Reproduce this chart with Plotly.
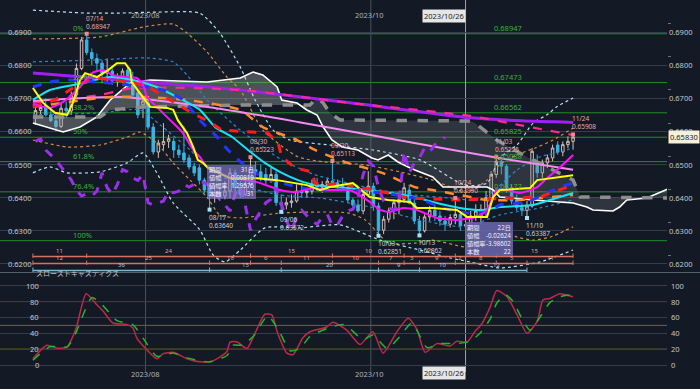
import pandas as pd
import plotly.graph_objects as go

# ---------------- data ----------------
dates = pd.bdate_range("2023-06-30", "2023-11-24").strftime("%Y/%m/%d").tolist()

opens = [0.6640,0.6663,0.6678,0.6650,0.6632,0.6615,0.6670,0.6662,0.6710,0.6790,
         0.6876,0.6838,0.6820,0.6806,0.6776,0.6782,0.6752,0.6760,0.6785,0.6740,
         0.6716,0.6680,0.6686,0.6613,0.6538,0.6560,0.6570,0.6570,0.6544,0.6535,
         0.6520,0.6495,0.6490,0.6453,0.6435,0.6405,0.6412,0.6405,0.6420,0.6475,
         0.6430,0.6410,0.6440,0.6485,0.6478,0.6470,0.6452,0.6470,0.6385,0.6378,
         0.6385,0.6390,0.6420,0.6415,0.6420,0.6440,0.6432,0.6440,0.6450,0.6445,
         0.6435,0.6430,0.6393,0.6378,0.6360,0.6410,0.6435,0.6375,0.6302,0.6335,
         0.6360,0.6385,0.6395,0.6423,0.6384,0.6330,0.6300,0.6342,0.6362,0.6345,
         0.6330,0.6320,0.6340,0.6350,0.6315,0.6318,0.6345,0.6345,0.6365,0.6400,
         0.6470,0.6510,0.6495,0.6430,0.6393,0.6370,0.6362,0.6375,0.6508,0.6475,
         0.6505,0.6520,0.6559,0.6538,0.6560,0.6570]
highs = [0.6672,0.6690,0.6700,0.6672,0.6655,0.6685,0.6690,0.6720,0.6805,0.6885,
         0.68947,0.6850,0.6835,0.6815,0.6820,0.6790,0.6775,0.6790,0.6795,0.6780,
         0.6722,0.6700,0.6700,0.6625,0.6575,0.6625,0.6590,0.6580,0.6560,0.6615,
         0.6530,0.6505,0.6500,0.6460,0.6445,0.6440,0.6430,0.6450,0.6490,0.6485,
         0.6450,0.6450,0.65223,0.6510,0.6500,0.6490,0.6490,0.6480,0.6410,0.6400,
         0.6410,0.6440,0.6445,0.6430,0.6455,0.6460,0.6450,0.6460,0.65113,0.6455,
         0.6460,0.6440,0.6400,0.6395,0.6425,0.6480,0.6445,0.6385,0.6345,0.6370,
         0.6395,0.6405,0.6445,0.6440,0.6400,0.6345,0.6350,0.6375,0.6380,0.6360,
         0.6345,0.6350,0.63990,0.6360,0.6330,0.6360,0.6380,0.6380,0.6420,0.6480,
         0.65225,0.6515,0.6500,0.6440,0.6410,0.6385,0.6390,0.6550,0.6530,0.6515,
         0.6530,0.6560,0.6570,0.6570,0.6585,0.65908]
lows = [0.6620,0.6650,0.6645,0.6628,0.6600,0.6610,0.6640,0.6650,0.6700,0.6785,
        0.6830,0.6800,0.6780,0.6745,0.6745,0.6740,0.6735,0.6745,0.6725,0.6700,
        0.6640,0.6640,0.6605,0.6530,0.6520,0.6545,0.6550,0.6520,0.6520,0.6505,
        0.6485,0.6465,0.6440,0.6415,0.63640,0.6385,0.6390,0.6395,0.6400,0.6420,
        0.6400,0.6405,0.6430,0.6470,0.6450,0.6440,0.6445,0.6375,0.63572,0.6365,
        0.6370,0.6385,0.6400,0.6400,0.6410,0.6420,0.6415,0.6420,0.6440,0.6420,
        0.6425,0.6385,0.6365,0.6355,0.6350,0.6405,0.6360,0.62851,0.6290,0.6325,
        0.6335,0.6350,0.6385,0.6380,0.6320,0.62862,0.6295,0.6330,0.6330,0.6315,
        0.6300,0.6310,0.6320,0.6300,0.62703,0.6305,0.6330,0.6320,0.6340,0.6395,
        0.6460,0.6470,0.6415,0.6380,0.6360,0.6345,0.63387,0.6370,0.6460,0.6460,
        0.6490,0.6510,0.6530,0.6525,0.6550,0.6545]
closes = [0.6663,0.6672,0.6650,0.6632,0.6615,0.6670,0.6662,0.6710,0.6790,0.6876,
          0.6838,0.6820,0.6806,0.6776,0.6782,0.6752,0.6760,0.6782,0.6736,0.6710,
          0.6650,0.6692,0.6613,0.6538,0.6565,0.6570,0.6578,0.6544,0.6530,0.6514,
          0.6493,0.6475,0.6453,0.6423,0.6405,0.6412,0.6405,0.6420,0.6475,0.6430,
          0.6410,0.6440,0.6485,0.6478,0.6460,0.6452,0.6470,0.6385,0.6378,0.6385,
          0.6390,0.6420,0.6415,0.6420,0.6440,0.6432,0.6440,0.6450,0.6445,0.6435,
          0.6430,0.6393,0.6378,0.6360,0.6410,0.6435,0.6375,0.6302,0.6335,0.6360,
          0.6385,0.6395,0.6430,0.6384,0.6330,0.6300,0.6342,0.6362,0.6345,0.6330,
          0.6320,0.6340,0.6350,0.6315,0.6318,0.6345,0.6360,0.6365,0.6400,0.6470,
          0.6510,0.6495,0.6430,0.6390,0.6370,0.6362,0.6375,0.6540,0.6475,0.6505,
          0.6520,0.6550,0.6538,0.6560,0.6570,0.65830]

# indicator readings (bar index, price)
ma_purple_x = [-0.5, 21, 40, 61, 85, 95, 105]
ma_purple_y = [0.6776, 0.6750, 0.6725, 0.6687, 0.6641, 0.6632, 0.6627]
ma_pinkdash_x = [-0.5, 12.6, 19, 40, 61.4, 84.9, 94.6, 105]
ma_pinkdash_y = [0.6686, 0.6710, 0.6731, 0.6725, 0.6686, 0.6647, 0.6619, 0.6589]
ma_pink_x = [-0.5, 16.5, 35, 51.5, 74, 90.5, 105]
ma_pink_y = [0.6692, 0.6704, 0.6671, 0.6628, 0.6565, 0.6520, 0.6484]
ma_orange_x = [-0.5, 14.6, 21, 29.6, 40, 44.4, 51.1, 54.6, 61, 67.7, 74.1, 77.6, 82.9, 88.2, 94.1, 98.5, 105]
ma_orange_y = [0.6674, 0.6704, 0.6704, 0.6695, 0.6665, 0.6613, 0.6574, 0.6544, 0.6505, 0.6475, 0.6432, 0.6423, 0.6408, 0.6393, 0.6393, 0.6399, 0.6408]
ma_cyan_x = [-0.5, 2.8, 9.3, 14.6, 19, 23.7, 27.6, 32.1, 35.1, 38.4, 41.5, 44.8, 48.1, 51.3, 54.6, 61, 67.7, 74.1, 77.6, 82.9, 87.4, 90.7, 97.2, 100.5, 105]
ma_cyan_y = [0.6695, 0.6725, 0.6746, 0.6764, 0.6755, 0.6734, 0.6704, 0.6665, 0.6613, 0.6583, 0.6544, 0.6505, 0.6475, 0.6453, 0.6438, 0.6429, 0.6417, 0.6402, 0.6387, 0.6369, 0.6363, 0.6372, 0.6378, 0.6393, 0.6414]
ma_blue_x = [-0.5, 2.8, 6.7, 12, 18.5, 24.9, 28.8, 32.1, 35.1, 37.6, 40.3, 42.9, 44.8, 49.7, 54.6, 62.4, 67.7, 74.1, 81, 84.3, 88.2, 90.7, 96, 99.9, 102.4, 105]
ma_blue_y = [0.6734, 0.6749, 0.6755, 0.6749, 0.6740, 0.6725, 0.6695, 0.6634, 0.6589, 0.6544, 0.6505, 0.6475, 0.6459, 0.6438, 0.6423, 0.6423, 0.6414, 0.6399, 0.6363, 0.6354, 0.6357, 0.6378, 0.6387, 0.6414, 0.6432, 0.6444]
ma_magenta_x = [-0.5, 2.8, 5.4, 8.7, 11, 13.2, 15.1, 17.9, 19.8, 21, 21.8, 23.7, 26.3, 28.8, 30.8, 32.1, 33.5, 38, 43.3, 47.8, 51.1, 54.2, 57.5, 61.4, 65.3, 67.3, 69.2, 71.8, 74.5, 78.4, 82.3, 86.2, 88.2, 90.1, 92.1, 94.6, 98, 99.9, 101.9, 105]
ma_magenta_y = [0.6683, 0.6671, 0.6689, 0.6734, 0.6776, 0.6785, 0.6770, 0.6764, 0.6761, 0.6740, 0.6704, 0.6674, 0.6634, 0.6595, 0.6544, 0.6523, 0.6493, 0.6462, 0.6447, 0.6423, 0.6417, 0.6429, 0.6423, 0.6423, 0.6387, 0.6363, 0.6357, 0.6369, 0.6363, 0.6339, 0.6333, 0.6342, 0.6363, 0.6423, 0.6423, 0.6414, 0.6432, 0.6459, 0.6484, 0.6529]
tenkan_x = [-0.5, 1.5, 3.8, 6.2, 7.3, 8.7, 9.7, 12, 14.2, 15.9, 17.5, 18.5, 18.8, 20.4, 22.4, 25.7, 26.9, 27.8, 29.6, 30.8, 31.7, 32.7, 33.7, 38, 43.3, 47.2, 53, 55.6, 57.5, 62, 65.3, 68.9, 73.2, 74.5, 77.6, 82.3, 84.3, 88.2, 89.4, 90.7, 96.6, 98, 102.4, 105]
tenkan_y = [0.6731, 0.6686, 0.6656, 0.6650, 0.6686, 0.6755, 0.6776, 0.6764, 0.6785, 0.6806, 0.6806, 0.6785, 0.6749, 0.6716, 0.6674, 0.6671, 0.6665, 0.6634, 0.6595, 0.6553, 0.6514, 0.6505, 0.6490, 0.6459, 0.6459, 0.6453, 0.6438, 0.6423, 0.6432, 0.6444, 0.6402, 0.6393, 0.6387, 0.6369, 0.6369, 0.6363, 0.6342, 0.6342, 0.6402, 0.6423, 0.6429, 0.6453, 0.6462, 0.6468]
kijun_x = [-0.5, 3.8, 8.1, 11.6, 15.5, 19.4, 22.4, 26.3, 30.2, 34.1, 36.4, 45.4, 47.4, 48.1, 50.7, 54, 54.6, 56.5, 59.9, 62.4, 66.3, 68.9, 72.8, 82.9, 92.7, 98.5, 101.1, 105]
kijun_y = [0.6674, 0.6695, 0.6740, 0.6761, 0.6755, 0.6746, 0.6731, 0.6695, 0.6659, 0.6628, 0.6604, 0.6595, 0.6565, 0.6523, 0.6490, 0.6478, 0.6444, 0.6438, 0.6444, 0.6432, 0.6423, 0.6414, 0.6399, 0.6393, 0.6399, 0.6402, 0.6417, 0.6438]
spanA_x = [-0.5, 5.4, 8.7, 12, 14.6, 18.5, 22.4, 33.5, 40, 42.5, 44.4, 47.2, 48.1, 51.1, 53, 55, 56.2, 57.9, 59.9, 63, 65.7, 66.9, 68.9, 70.8, 72.8, 74.1, 77.6, 79.6, 84.3, 88.2, 89.4, 90.7, 97.2, 105, 107.7, 108.9, 112.8, 114.1, 115.5, 119.4, 124]
spanA_y = [0.66254, 0.65982, 0.66133, 0.66435, 0.66948, 0.67461, 0.67552, 0.67491, 0.67612, 0.67793, 0.67702, 0.67340, 0.66948, 0.66858, 0.66646, 0.66495, 0.66133, 0.65741, 0.65530, 0.65439, 0.65198, 0.65138, 0.65288, 0.65077, 0.64926, 0.64836, 0.64625, 0.64323, 0.64323, 0.64323, 0.64232, 0.64021, 0.63931, 0.63840, 0.63719, 0.63629, 0.63599, 0.63719, 0.63931, 0.63991, 0.64290]
spanB_x = [-0.5, 12.6, 14.6, 21, 40, 53, 53.6, 55, 56.2, 57.5, 59.5, 84.9, 85.8, 90.1, 96, 101.1, 105, 106.4, 124]
spanB_y = [0.66435, 0.66435, 0.66646, 0.66737, 0.66797, 0.66797, 0.66797, 0.67008, 0.66858, 0.66556, 0.66345, 0.66314, 0.66254, 0.65741, 0.65228, 0.64836, 0.64534, 0.64021, 0.63991]

bb3u_x = [-0.5, 10.1, 15.9, 23.7, 32.1, 36, 40, 42.9, 46.4, 49.7, 57.5, 65.9, 75.1, 83.9, 88.2, 90.7, 94.1, 97.2, 99.9, 101.9, 105]
bb3u_y = [0.6966, 0.6957, 0.6957, 0.6960, 0.6957, 0.6897, 0.6794, 0.6695, 0.6604, 0.6574, 0.6559, 0.6544, 0.6514, 0.6438, 0.6444, 0.6520, 0.6560, 0.6625, 0.6650, 0.6675, 0.6701]
bb2u_x = [-0.5, 12.6, 21, 26.9, 29.6, 33.5, 37.4, 40, 44.4, 51.3, 56.5, 64.4, 71.2, 77.6, 84.3, 88.2, 90.7, 94.1, 97.6, 101.1, 105]
bb2u_y = [0.6879, 0.6885, 0.6915, 0.6924, 0.6897, 0.6840, 0.6764, 0.6725, 0.6604, 0.6523, 0.6508, 0.6499, 0.6478, 0.6453, 0.6417, 0.6453, 0.6500, 0.6530, 0.6550, 0.6574, 0.6610]
bb1u_x = [-0.5, 12.6, 21.8, 26.9, 29.6, 33.5, 40, 48.1, 54.6, 61, 67.3, 74.1, 81, 86.8, 90.1, 94.1, 98.5, 103.8, 105]
bb1u_y = [0.6810, 0.6816, 0.6822, 0.6810, 0.6770, 0.6695, 0.6604, 0.6514, 0.6469, 0.6444, 0.6423, 0.6408, 0.6399, 0.6393, 0.6429, 0.6484, 0.6523, 0.6544, 0.6553]
bb1l_x = [-0.5, 12.6, 20.4, 24.4, 30.2, 34.1, 40, 47.8, 55.6, 65.3, 75.1, 83.9, 90.7, 98.5, 105]
bb1l_y = [0.6650, 0.6656, 0.6665, 0.6619, 0.6544, 0.6484, 0.6438, 0.6408, 0.6399, 0.6372, 0.6333, 0.6312, 0.6348, 0.6369, 0.6393]
bb2l_x = [-0.5, 6.2, 12.6, 17.9, 20.4, 23.7, 26.9, 30.2, 33.5, 36, 40, 48.1, 61, 64.4, 66.9, 68.9, 74.1, 77.6, 84.3, 88.2, 90.7, 94.1, 97.2, 100.5, 105]
bb2l_y = [0.6574, 0.6553, 0.6559, 0.6583, 0.6598, 0.6565, 0.6505, 0.6453, 0.6402, 0.6348, 0.6339, 0.6354, 0.6354, 0.6333, 0.6293, 0.6263, 0.6263, 0.6272, 0.6251, 0.6272, 0.6303, 0.6281, 0.6272, 0.6281, 0.6312]
bb3l_x = [-0.5, 2.8, 6.2, 12.6, 17.9, 21, 23.7, 26.9, 32.1, 34.7, 37, 40, 44.8, 51.7, 59.5, 67.3, 75.1, 81, 84.9, 90.7, 98.5, 105]
bb3l_y = [0.6475, 0.6493, 0.6475, 0.6478, 0.6505, 0.6535, 0.6475, 0.6384, 0.6303, 0.6227, 0.6206, 0.6242, 0.6309, 0.6309, 0.6318, 0.6272, 0.6242, 0.6218, 0.6206, 0.6188, 0.6206, 0.6242]

stoch_k_x = [-0.5, 2.2, 4.4, 6.2, 7.3, 8.1, 9.9, 12, 13.2, 15.1, 17.9, 19, 19.8, 21.8, 23.7, 24.9, 26.9, 29.6, 32.1, 34.1, 36, 37.4, 38, 39.4, 41.3, 43.3, 44.8, 46.2, 47.2, 49.1, 50.3, 52.2, 53.6, 56.9, 58.1, 60.8, 63.4, 65.9, 67.9, 70.6, 72.8, 74.5, 76.1, 78.4, 81, 82.3, 84.3, 85.8, 87.2, 88.8, 90.1, 92.1, 94.1, 96, 98, 99.1, 100.5, 102.4, 103.8, 105]
stoch_k_y = [8, 25, 21, 23, 36, 50, 90, 76, 68, 53, 51, 47, 34, 19, 8, 14, 16, 8, 4, 4, 10, 17, 29, 29, 21, 46, 64, 63, 42, 15, 13, 34, 42, 48, 54, 44, 26, 42, 15, 42, 59, 45, 16, 27, 24, 30, 29, 42, 52, 73, 94, 86, 63, 40, 55, 82, 84, 90, 88, 86]
stoch_d_x = [-0.5, 2.8, 6.2, 7.7, 11, 12.6, 15.9, 19, 21, 23.7, 26.9, 29.6, 34.1, 37.4, 38.6, 40.5, 42.5, 45.4, 47.8, 49.7, 51.7, 53.6, 56.9, 60.1, 61.4, 64, 65.9, 68.7, 71.2, 73.5, 76.5, 79, 82.3, 84.9, 86.8, 88.8, 90.1, 91.7, 93.3, 95.2, 96.6, 98.5, 100.5, 102.4, 103.8, 105]
stoch_d_y = [6, 23, 23, 38, 85, 79, 56, 51, 34, 11, 15, 9, 4, 12, 25, 25, 36, 62, 40, 18, 21, 36, 46, 51, 46, 32, 38, 21, 36, 53, 22, 27, 27, 30, 40, 58, 78, 89, 80, 56, 44, 60, 79, 86, 88, 88]

fib_high, fib_low = 0.68947, 0.62703
fib_ratios = [0.0, 0.236, 0.382, 0.5, 0.618, 0.764, 1.0]
fib_names = ["0%", "23.6%", "38.2%", "50%", "61.8%", "76.4%", "100%"]

swing_hi = [(10, 0.68947, "07/14"), (42, 0.65223, "08/30"), (58, 0.65113, "09/20"),
            (82, 0.63990, "10/24"), (90, 0.65225, "11/03"), (105, 0.65908, "11/24")]
swing_lo = [(34, 0.63640, "08/17"), (48, 0.63572, "09/06"), (67, 0.62851, "10/03"),
            (75, 0.62862, "10/13"), (96, 0.63387, "11/10")]

rowA_bounds = [-0.5, 10, 42, 58, 72, 82, 90, 105]
rowA_labels = ["11", "24", "15", "10", "11", "", "15"]
rowB_bounds = [-0.5, 10, 34, 42, 48, 58, 67, 72, 75, 82, 84, 90, 96, 105]
rowB_labels = ["12", "25", "10", "6", "11", "10", "7", "3", "9", "2", "8", "5", "11"]
rowC_bounds = [-0.5, 34, 48, 67, 75, 84, 96]
rowC_labels = ["36", "15", "20", "9", "10", "12"]

box_keys = ["期間", "値幅", "値幅率", "本数"]
box1_vals = ["31日", "0.00819", "1.29576", "31"]
box2_vals = ["22日", "-0.02624", "-3.98602", "22"]

price_ticks = [0.62, 0.63, 0.64, 0.65, 0.66, 0.67, 0.68, 0.69]
stoch_ticks = [0, 20, 40, 60, 80, 100]
last_price = closes[-1]

# ---------------- layout helpers ----------------
PW, PH = 667.0, 389.0
def px(x): return x / PW
def py(y): return 1 - y / PH

BG = "#131a25"
GRID = "#353d4a"
TXT = "#c4c7cc"
FONT = "Noto Sans, Noto Sans CJK JP, sans-serif"

n = len(closes)
xi = list(range(n))

fig = go.Figure()

def line(x, y, color, width=2, dash=None, shape="spline", **kw):
    fig.add_trace(go.Scatter(x=x, y=y, mode="lines", hoverinfo="skip", showlegend=False,
                             line=dict(color=color, width=width, dash=dash, shape=shape,
                                       smoothing=0.6 if shape == "spline" else None), **kw))

# cloud fills
split = 53
a1 = [(x, y) for x, y in zip(spanA_x, spanA_y) if x <= split]
b1 = [(x, y) for x, y in zip(spanB_x, spanB_y) if x <= split]
a2 = [(x, y) for x, y in zip(spanA_x, spanA_y) if x >= split]
b2 = [(x, y) for x, y in zip(spanB_x, spanB_y) if x >= split]
for a, b, col in [(a1, b1, "rgba(165,165,165,0.40)"), (a2, b2, "rgba(120,125,132,0.28)")]:
    fig.add_trace(go.Scatter(x=[p[0] for p in b], y=[p[1] for p in b], mode="lines",
                             line=dict(width=0), hoverinfo="skip", showlegend=False))
    fig.add_trace(go.Scatter(x=[p[0] for p in a], y=[p[1] for p in a], mode="lines",
                             line=dict(width=0), fill="tonexty", fillcolor=col,
                             hoverinfo="skip", showlegend=False))

# bollinger bands
line(bb3u_x, bb3u_y, "#b5e3ee", 1.2, "dot")
line(bb3l_x, bb3l_y, "#b5e3ee", 1.2, "dot")
line(bb2u_x, bb2u_y, "#d08a48", 1.2, "dot")
line(bb2l_x, bb2l_y, "#d08a48", 1.2, "dot")
line(bb1u_x, bb1u_y, "#2f86c8", 1.2, "dot")
line(bb1l_x, bb1l_y, "#2f86c8", 1.2, "dot")

# ichimoku cloud borders
line(spanA_x, spanA_y, "#ffffff", 1.6, None, "linear")
line(spanB_x, spanB_y, "#8e8e8e", 3.5, "dash", "linear")

# candles
fig.add_trace(go.Candlestick(
    x=xi, open=opens, high=highs, low=lows, close=closes,
    increasing=dict(line=dict(color="#d6bcbc", width=1), fillcolor="rgba(0,0,0,0)"),
    decreasing=dict(line=dict(color="#3ab4e2", width=1), fillcolor="#3ab4e2"),
    whiskerwidth=0, hoverinfo="skip", showlegend=False))

# moving averages
line(ma_purple_x, ma_purple_y, "#a020f0", 3)
line(ma_pinkdash_x, ma_pinkdash_y, "#ff2a8c", 2.2, "dash")
line(ma_pink_x, ma_pink_y, "#f58af0", 2)
line(ma_orange_x, ma_orange_y, "#ff8c2a", 2.5, "dash")
line(ma_cyan_x, ma_cyan_y, "#17e3f5", 2)
line(ma_blue_x, ma_blue_y, "#2236ff", 3, "dash")
line(kijun_x, kijun_y, "#ff1c1c", 3, "dash", "linear")
line(ma_magenta_x, ma_magenta_y, "#ff10ff", 2)
line(tenkan_x, tenkan_y, "#ffff00", 2, None, "linear")

# lagging span (close shifted back 25 bars)
line([i - 25 for i in range(25, n)], closes[25:], "#9b30e8", 3, "dash", "linear")

# swing markers
fig.add_trace(go.Scatter(x=[s[0] for s in swing_hi], y=[s[1] for s in swing_hi], mode="markers",
                         marker=dict(symbol="square", size=4, color="#f08a8a"),
                         hoverinfo="skip", showlegend=False))
fig.add_trace(go.Scatter(x=[s[0] for s in swing_lo], y=[s[1] for s in swing_lo], mode="markers",
                         marker=dict(symbol="square", size=4, color="#a6e2f2"),
                         hoverinfo="skip", showlegend=False))

# stochastics
fig.add_trace(go.Scatter(x=stoch_k_x, y=stoch_k_y, xaxis="x2", yaxis="y2", mode="lines",
                         line=dict(color="#c02848", width=1.5, shape="spline", smoothing=0.6),
                         hoverinfo="skip", showlegend=False))
fig.add_trace(go.Scatter(x=stoch_d_x, y=stoch_d_y, xaxis="x2", yaxis="y2", mode="lines",
                         line=dict(color="#1fb82a", width=1.5, dash="dash", shape="spline", smoothing=0.6),
                         hoverinfo="skip", showlegend=False))

# ---------------- shapes ----------------
shapes = []
fib_levels = [fib_high - r * (fib_high - fib_low) for r in fib_ratios]
for lv in fib_levels:
    shapes.append(dict(type="line", xref="paper", x0=0, x1=1, yref="y", y0=lv, y1=lv,
                       line=dict(color="#1f8f22", width=1), layer="below"))
for xv, col in [(21.5, "#4a525f"), (65.5, "#4a525f"), (84, "#9ea3ab")]:
    shapes.append(dict(type="line", xref="x", x0=xv, x1=xv, yref="paper", y0=py(372), y1=1,
                       line=dict(color=col, width=1), layer="below"))
shapes.append(dict(type="line", xref="paper", x0=0, x1=1.06, yref="paper", y0=py(272.5), y1=py(272.5),
                   line=dict(color="#56606d", width=1)))
for lvl, col in [(80, "#b5651d"), (50, "#9c5418"), (20, "#8c6a2a")]:
    shapes.append(dict(type="line", xref="paper", x0=0, x1=1, yref="y2", y0=lvl, y1=lvl,
                       line=dict(color=col, width=1), layer="below"))

anns = []

def count_row(bounds, labels, ly, col, tcol):
    shapes.append(dict(type="line", xref="x", x0=bounds[0], x1=bounds[-1], yref="paper",
                       y0=py(ly), y1=py(ly), line=dict(color=col, width=1.5)))
    for b in bounds:
        shapes.append(dict(type="line", xref="x", x0=b, x1=b, yref="paper",
                           y0=py(ly + 1.5), y1=py(ly - 3), line=dict(color=col, width=1)))
    for i, lab in enumerate(labels):
        if lab:
            anns.append(dict(x=(bounds[i] + bounds[i + 1]) / 2, xref="x", y=py(ly - 0.5), yref="paper",
                             yanchor="bottom", text=lab, showarrow=False, borderpad=0,
                             font=dict(size=6, color=tcol)))

count_row(rowA_bounds, rowA_labels, 256.5, "#d8705f", "#e8a090")
count_row(rowB_bounds, rowB_labels, 263.5, "#d8705f", "#e8a090")
count_row(rowC_bounds, rowC_labels, 270.5, "#7fb8d0", "#9ccbe0")

# info boxes
for (x0, x1, y0, y1, vals, col) in [(207, 256, 165, 199, box1_vals, "rgba(140,128,215,0.62)"),
                                     (465, 513, 222, 256, box2_vals, "rgba(104,100,168,0.9)")]:
    shapes.append(dict(type="rect", xref="paper", yref="paper", x0=px(x0), x1=px(x1),
                       y0=py(y1), y1=py(y0), fillcolor=col, line=dict(width=0), layer="above"))
    yc = py((y0 + y1) / 2)
    anns.append(dict(x=px(x0 + 1), xref="paper", xanchor="left", y=yc, yref="paper",
                     text="<br>".join(box_keys), align="left", showarrow=False, borderpad=0,
                     font=dict(size=6.2, color="#eeeeff")))
    anns.append(dict(x=px(x1 - 1), xref="paper", xanchor="right", y=yc, yref="paper",
                     text="<br>".join(vals), align="right", showarrow=False, borderpad=0,
                     font=dict(size=6.2, color="#eeeeff")))

# axis labels (both sides)
for v in price_ticks:
    anns.append(dict(x=px(32), xref="paper", xanchor="right", y=v, yref="y", text=f"{v:.4f}",
                     showarrow=False, borderpad=0, font=dict(size=7.5, color=TXT)))
    anns.append(dict(x=1, xref="paper", xanchor="left", xshift=1, y=v, yref="y", text=f"{v:.4f}",
                     showarrow=False, borderpad=0, font=dict(size=7.5, color=TXT)))
for v in stoch_ticks:
    anns.append(dict(x=px(40), xref="paper", xanchor="right", y=v, yref="y2", text=str(v),
                     showarrow=False, borderpad=0, font=dict(size=7.5, color=TXT)))
    anns.append(dict(x=1, xref="paper", xanchor="left", xshift=3, y=v, yref="y2", text=str(v),
                     showarrow=False, borderpad=0, font=dict(size=7.5, color=TXT)))

# fib labels
for lv, name in zip(fib_levels, fib_names):
    anns.append(dict(x=px(72), xref="paper", xanchor="left", y=lv, yref="y", yanchor="bottom",
                     text=name, showarrow=False, borderpad=0, font=dict(size=7.5, color="#3fae3f")))
for lv in fib_levels[:6]:
    anns.append(dict(x=px(493), xref="paper", xanchor="left", y=lv, yref="y", yanchor="bottom",
                     text=f"{lv:.5f}", showarrow=False, borderpad=0, font=dict(size=7.5, color="#3fae3f")))

# swing labels
for (i, p, d) in swing_hi:
    anns.append(dict(x=i, xref="x", xanchor="left", xshift=-2, y=p, yref="y", yanchor="bottom",
                     yshift=2, text=f"{d}<br>{p:.5f}", align="left", showarrow=False, borderpad=0,
                     font=dict(size=6.5, color="#eaa6a6")))
for (i, p, d) in swing_lo:
    anns.append(dict(x=i, xref="x", xanchor="left", xshift=-2, y=p, yref="y", yanchor="top",
                     yshift=-2, text=f"{d}<br>{p:.5f}", align="left", showarrow=False, borderpad=0,
                     font=dict(size=6.5, color="#c6d2de")))

# dates
for yy in (py(9.5), py(380)):
    anns.append(dict(x=21.5, xref="x", y=yy, yref="paper", text="2023/08", showarrow=False,
                     borderpad=0, font=dict(size=7.5, color="#aeb3ba")))
    anns.append(dict(x=65.3, xref="x", y=yy, yref="paper", text="2023/10", showarrow=False,
                     borderpad=0, font=dict(size=7.5, color="#aeb3ba")))
    anns.append(dict(x=84, xref="x", xanchor="right", y=yy, yref="paper", text=dates[84],
                     showarrow=False, bgcolor="#e6e6e6", borderpad=1,
                     font=dict(size=7.5, color="#222222")))

# stoch title
anns.append(dict(x=px(35), xref="paper", xanchor="left", y=py(279), yref="paper",
                 text="スローストキャスティクス", showarrow=False, borderpad=0,
                 font=dict(size=7, color="#c0c3c8")))
# current price tag
anns.append(dict(x=1, xref="paper", xanchor="left", xshift=1, y=last_price, yref="y",
                 text=f"{last_price:.5f}", showarrow=False, bgcolor="#f4f0da", borderpad=1,
                 font=dict(size=7.5, color="#222222")))

minor_vals = [0.6225 + 0.01 * k for k in range(8)]

fig.update_layout(
    width=700, height=389, margin=dict(l=0, r=33, t=0, b=0, autoexpand=False),
    paper_bgcolor=BG, plot_bgcolor=BG, showlegend=False,
    font=dict(family=FONT, color=TXT, size=7.5),
    xaxis=dict(domain=[0, 1], range=[-6.93, 123.35], anchor="y", showticklabels=False,
               showgrid=False, zeroline=False, rangeslider=dict(visible=False), fixedrange=True),
    yaxis=dict(domain=[py(272), 1], range=[0.617579, 0.699656], side="right",
               showticklabels=False, tickvals=price_ticks,
               showgrid=True, gridcolor=GRID, gridwidth=1, zeroline=False, ticks="",
               minor=dict(tickvals=minor_vals, ticks="outside", ticklen=3, tickcolor="#6a707a",
                          showgrid=False)),
    xaxis2=dict(domain=[0, 1], range=[-6.93, 123.35], anchor="y2", matches="x",
                showticklabels=False, showgrid=False, zeroline=False),
    yaxis2=dict(domain=[py(372), py(274)], range=[-8.8, 114.8], side="right",
                showticklabels=False, tickvals=stoch_ticks,
                showgrid=True, gridcolor=GRID, zeroline=False, ticks=""),
    shapes=shapes, annotations=anns,
)

fig.write_html("out.html", config={"displayModeBar": False, "staticPlot": True},
               post_script="document.body.style.margin='0';document.body.style.background='#131a25';")
